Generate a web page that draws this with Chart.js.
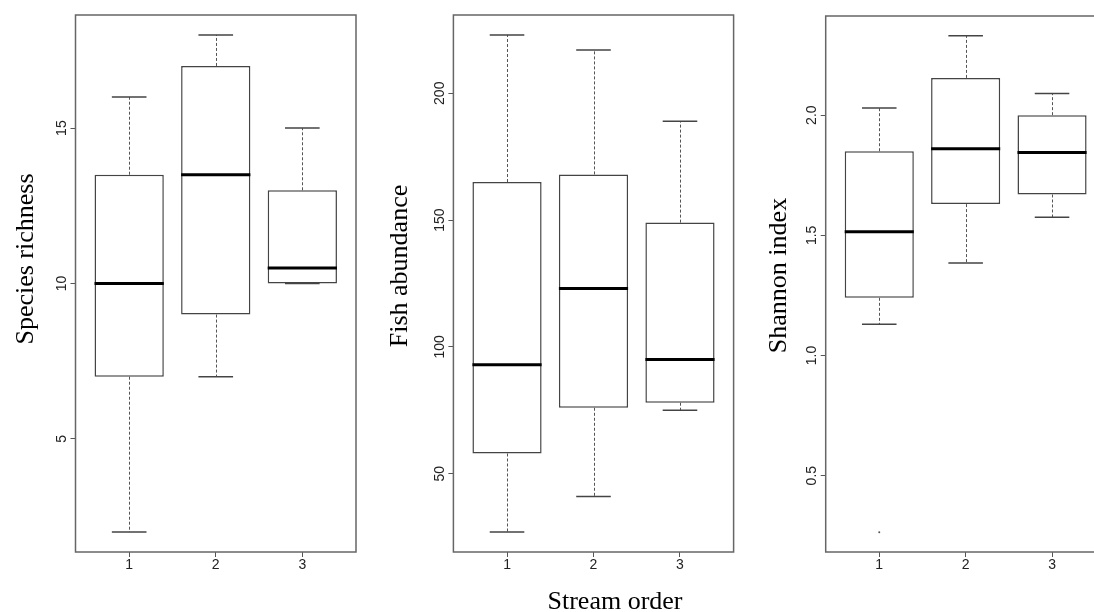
<!DOCTYPE html>
<html><head><meta charset="utf-8">
<script src="https://cdn.jsdelivr.net/npm/chart.js@4.4.1/dist/chart.umd.min.js"></script>
<style>
html,body{margin:0;padding:0;background:#fff;overflow:hidden;width:1094px;height:612px;position:relative}
canvas{position:absolute;top:0}
</style></head><body>
<canvas id="c1" width="370" height="612" style="left:0px"></canvas>
<canvas id="c2" width="370" height="612" style="left:375px"></canvas>
<canvas id="c3" width="370" height="612" style="left:750px"></canvas>
<script>
// ---- data ----
const streamOrder = [1, 2, 3];
const streamLabels = ['1', '2', '3'];

// Species richness
const richMin    = [2, 7, 10];
const richQ1     = [7, 9, 10];
const richMedian = [10, 13.5, 10.5];
const richQ3     = [13.5, 17, 13];
const richMax    = [16, 18, 15];
const richOutX   = [];
const richOutY   = [];
const richTicks  = [5, 10, 15];
const richTickLabels = ['5', '10', '15'];

// Fish abundance
const abunMin    = [27, 41, 75];
const abunQ1     = [58, 76, 78];
const abunMedian = [93, 123, 95];
const abunQ3     = [165, 168, 149];
const abunMax    = [223, 217, 189];
const abunOutX   = [];
const abunOutY   = [];
const abunTicks  = [50, 100, 150, 200];
const abunTickLabels = ['50', '100', '150', '200'];

// Shannon index
const shanMin    = [1.13, 1.385, 1.575];
const shanQ1     = [1.24, 1.63, 1.67];
const shanMedian = [1.515, 1.86, 1.845];
const shanQ3     = [1.85, 2.155, 2.0];
const shanMax    = [2.03, 2.33, 2.09];
const shanOutX   = [1];
const shanOutY   = [0.265];
const shanTicks  = [0.5, 1.0, 1.5, 2.0];
const shanTickLabels = ['0.5', '1.0', '1.5', '2.0'];

const TICK_FONT = '"Liberation Sans", Arial, Helvetica, sans-serif';
const TITLE_FONT = '"Liberation Serif", "Times New Roman", Times, serif';

// ---- plugins ----
const boxParts = {
  id: 'boxParts',
  beforeDatasetsDraw(chart, args, o) {
    const {ctx, scales: {x, y}} = chart;
    ctx.save();
    for (let i = 0; i < o.pos.length; i++) {
      const px = Math.round(x.getPixelForValue(o.pos[i])) + 0.5;
      const yq1 = y.getPixelForValue(o.q1[i]), yq3 = y.getPixelForValue(o.q3[i]);
      const ylo = y.getPixelForValue(o.min[i]), yhi = y.getPixelForValue(o.max[i]);
      ctx.setLineDash([3, 2]);
      ctx.lineWidth = 1;
      ctx.strokeStyle = '#555';
      ctx.beginPath();
      ctx.moveTo(px, yq3); ctx.lineTo(px, yhi);
      ctx.moveTo(px, yq1); ctx.lineTo(px, ylo);
      ctx.stroke();
      ctx.setLineDash([]);
      ctx.lineWidth = 1.5;
      ctx.strokeStyle = '#444';
      const l = x.getPixelForValue(o.pos[i] - 0.2), r = x.getPixelForValue(o.pos[i] + 0.2);
      ctx.beginPath();
      ctx.moveTo(l, yhi); ctx.lineTo(r, yhi);
      ctx.moveTo(l, ylo); ctx.lineTo(r, ylo);
      ctx.stroke();
    }
    ctx.restore();
  },
  afterDatasetsDraw(chart, args, o) {
    const {ctx, scales: {x, y}, chartArea: a} = chart;
    ctx.save();
    ctx.lineWidth = 3;
    ctx.strokeStyle = '#000';
    for (let i = 0; i < o.pos.length; i++) {
      const l = x.getPixelForValue(o.pos[i] - 0.4), r = x.getPixelForValue(o.pos[i] + 0.4);
      const ym = y.getPixelForValue(o.median[i]);
      ctx.beginPath(); ctx.moveTo(l, ym); ctx.lineTo(r, ym); ctx.stroke();
    }
    ctx.lineWidth = 1.5;
    ctx.strokeStyle = '#666';
    ctx.strokeRect(a.left, a.top, a.right - a.left, a.bottom - a.top);
    ctx.restore();
  }
};

const titles = {
  id: 'titles',
  afterDraw(chart, args, o) {
    const ctx = chart.ctx;
    ctx.save();
    ctx.fillStyle = '#000';
    for (const t of o.items) {
      ctx.font = t.size + 'px ' + TITLE_FONT;
      ctx.textAlign = 'center';
      ctx.textBaseline = 'alphabetic';
      ctx.translate(t.x, t.y);
      ctx.rotate(t.rot || 0);
      ctx.fillText(t.text, 0, 0);
      ctx.setTransform(1, 0, 0, 1, 0, 0);
    }
    ctx.restore();
  }
};

function makeChart(id, s) {
  const all = s.min.concat(s.max, s.outY);
  const lo = Math.min(...all), hi = Math.max(...all);
  const pad = (hi - lo) * 0.04;
  new Chart(document.getElementById(id), {
    type: 'bar',
    data: {
      datasets: [{
        type: 'bar',
        data: streamOrder.map((p, i) => ({x: p, y: [s.q1[i], s.q3[i]]})),
        backgroundColor: '#fff',
        borderColor: '#444',
        borderWidth: 1.5,
        borderSkipped: false,
        barPercentage: 0.8,
        categoryPercentage: 1.0,
        order: 2
      }, {
        type: 'scatter',
        data: s.outX.map((p, i) => ({x: p, y: s.outY[i]})),
        pointRadius: 1,
        pointBackgroundColor: '#555',
        pointBorderWidth: 0,
        order: 1
      }]
    },
    options: {
      responsive: false,
      animation: false,
      layout: {padding: {top: s.top, right: s.right, left: 0, bottom: 0}},
      plugins: {
        legend: {display: false},
        tooltip: {enabled: false},
        boxParts: {pos: streamOrder, min: s.min, q1: s.q1, median: s.median, q3: s.q3, max: s.max},
        titles: {items: s.titles}
      },
      scales: {
        x: {
          type: 'linear',
          offset: false,
          min: 0.38, max: 3.62,
          afterBuildTicks: ax => { ax.ticks = streamOrder.map(v => ({value: v})); },
          afterFit: ax => { ax.height = 612 - s.bottom; },
          border: {display: false},
          grid: {display: true, offset: false, drawOnChartArea: false, drawTicks: true, tickLength: 5, color: '#555'},
          ticks: {
            autoSkip: false, maxRotation: 0, padding: 0,
            color: '#222', font: {size: 14, family: TICK_FONT},
            callback: v => streamLabels[streamOrder.indexOf(v)]
          }
        },
        y: {
          type: 'linear',
          min: lo - pad, max: hi + pad,
          afterBuildTicks: ax => { ax.ticks = s.ticks.map(v => ({value: v})); },
          afterFit: ax => { ax.width = s.left; },
          border: {display: false},
          grid: {display: true, drawOnChartArea: false, drawTicks: true, tickLength: 5, color: '#555'},
          ticks: {
            minRotation: 90, maxRotation: 90, crossAlign: 'center', padding: s.tickPad,
            color: '#222', font: {size: 14, family: TICK_FONT},
            callback: v => s.tickLabels[s.ticks.indexOf(v)]
          }
        }
      }
    },
    plugins: [boxParts, titles]
  });
}

makeChart('c1', {
  min: richMin, q1: richQ1, median: richMedian, q3: richQ3, max: richMax,
  outX: richOutX, outY: richOutY, ticks: richTicks, tickLabels: richTickLabels,
  left: 75.5, right: 14, top: 15, bottom: 552, tickPad: 0.3,
  titles: [{text: 'Species richness', x: 33, y: 259, rot: -Math.PI / 2, size: 26}]
});
makeChart('c2', {
  min: abunMin, q1: abunQ1, median: abunMedian, q3: abunQ3, max: abunMax,
  outX: abunOutX, outY: abunOutY, ticks: abunTicks, tickLabels: abunTickLabels,
  left: 78.4, right: 11.4, top: 15, bottom: 552, tickPad: -3.6,
  titles: [{text: 'Fish abundance', x: 32, y: 266, rot: -Math.PI / 2, size: 26},
           {text: 'Stream order', x: 240, y: 609, rot: 0, size: 26}]
});
makeChart('c3', {
  min: shanMin, q1: shanQ1, median: shanMedian, q3: shanQ3, max: shanMax,
  outX: shanOutX, outY: shanOutY, ticks: shanTicks, tickLabels: shanTickLabels,
  left: 75.7, right: 14.4, top: 16, bottom: 552, tickPad: -1.6,
  titles: [{text: 'Shannon index', x: 35.5, y: 275.5, rot: -Math.PI / 2, size: 26}]
});
</script>
</body></html>
